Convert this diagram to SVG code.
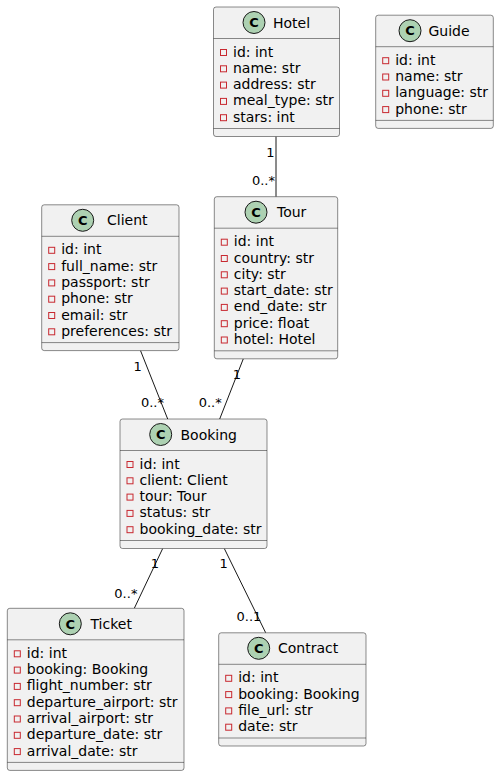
<svg xmlns="http://www.w3.org/2000/svg" width="499" height="776" viewBox="0 0 499 776">
  <defs>
    <style>
      .box { fill: #F1F1F1; stroke: #181818; stroke-width: 0.5; }
      .sep { stroke: #181818; stroke-width: 0.5; }
      .spot { fill: #ADD1B2; stroke: #181818; stroke-width: 1; }
      .spotc { font-family: "DejaVu Sans", sans-serif; font-size: 13px; font-weight: bold; fill: #000000; text-anchor: middle; }
      .name { font-family: "DejaVu Sans", sans-serif; font-size: 14px; fill: #000000; }
      .attr { font-family: "DejaVu Sans", sans-serif; font-size: 14px; fill: #000000; }
      .priv { fill: none; stroke: #C82930; stroke-width: 1; }
      .link { stroke: #181818; stroke-width: 1; fill: none; }
      .mult { font-family: "DejaVu Sans", sans-serif; font-size: 13px; fill: #000000; }
    </style>
  </defs>
  <rect x="0" y="0" width="499" height="776" fill="#FFFFFF"/>

  <g id="connectors">
    <line class="link" x1="276" y1="136.5" x2="276" y2="196.7"/>
    <text class="mult" x="274.5" y="157.4" text-anchor="end">1</text>
    <text class="mult" x="275" y="185.4" text-anchor="end">0..*</text>

    <line class="link" x1="140.5" y1="350.6" x2="167.7" y2="419"/>
    <text class="mult" x="137.7" y="370.7" text-anchor="middle">1</text>
    <text class="mult" x="164" y="407.4" text-anchor="end">0..*</text>

    <line class="link" x1="243.3" y1="358.8" x2="219.7" y2="419"/>
    <text class="mult" x="237" y="379" text-anchor="middle">1</text>
    <text class="mult" x="221.7" y="407.4" text-anchor="end">0..*</text>

    <line class="link" x1="162.7" y1="548.5" x2="134.3" y2="608.3"/>
    <text class="mult" x="155" y="568" text-anchor="middle">1</text>
    <text class="mult" x="137.4" y="598" text-anchor="end">0..*</text>

    <line class="link" x1="224.3" y1="548.5" x2="265.7" y2="632.8"/>
    <text class="mult" x="223.7" y="568" text-anchor="middle">1</text>
    <text class="mult" x="236.5" y="621.4">0..1</text>
  </g>

  <g id="Hotel">
    <rect class="box" x="213.5" y="7" width="126" height="129.5" rx="2.5" ry="2.5"/>
    <circle class="spot" cx="254" cy="22.5" r="11"/>
    <text class="spotc" x="254" y="27.2">C</text>
    <text class="name" x="273" y="27.5">Hotel</text>
    <line class="sep" x1="213.5" y1="38.5" x2="339.5" y2="38.5"/>
    <rect class="priv" x="220.5" y="49.5" width="6" height="6"/>
    <text class="attr" x="233" y="56.5">id: int</text>
    <rect class="priv" x="220.5" y="65.8" width="6" height="6"/>
    <text class="attr" x="233" y="72.8">name: str</text>
    <rect class="priv" x="220.5" y="82.1" width="6" height="6"/>
    <text class="attr" x="233" y="89.1">address: str</text>
    <rect class="priv" x="220.5" y="98.4" width="6" height="6"/>
    <text class="attr" x="233" y="105.4">meal_type: str</text>
    <rect class="priv" x="220.5" y="114.7" width="6" height="6"/>
    <text class="attr" x="233" y="121.7">stars: int</text>
    <line class="sep" x1="213.5" y1="128.5" x2="339.5" y2="128.5"/>
  </g>

  <g id="Guide">
    <rect class="box" x="375.7" y="15.2" width="117.6" height="113.2" rx="2.5" ry="2.5"/>
    <circle class="spot" cx="410" cy="30.7" r="11"/>
    <text class="spotc" x="410" y="35.4">C</text>
    <text class="name" x="428.5" y="35.7">Guide</text>
    <line class="sep" x1="375.7" y1="46.7" x2="493.3" y2="46.7"/>
    <rect class="priv" x="382.7" y="57.7" width="6" height="6"/>
    <text class="attr" x="395.2" y="64.7">id: int</text>
    <rect class="priv" x="382.7" y="74" width="6" height="6"/>
    <text class="attr" x="395.2" y="81">name: str</text>
    <rect class="priv" x="382.7" y="90.3" width="6" height="6"/>
    <text class="attr" x="395.2" y="97.3">language: str</text>
    <rect class="priv" x="382.7" y="106.6" width="6" height="6"/>
    <text class="attr" x="395.2" y="113.6">phone: str</text>
    <line class="sep" x1="375.7" y1="120.4" x2="493.3" y2="120.4"/>
  </g>

  <g id="Client">
    <rect class="box" x="41.7" y="204.8" width="137.3" height="145.8" rx="2.5" ry="2.5"/>
    <circle class="spot" cx="82.7" cy="220.3" r="11"/>
    <text class="spotc" x="82.7" y="225">C</text>
    <text class="name" x="107" y="225.3">Client</text>
    <line class="sep" x1="41.7" y1="236.3" x2="179" y2="236.3"/>
    <rect class="priv" x="48.7" y="247.3" width="6" height="6"/>
    <text class="attr" x="61.2" y="254.3">id: int</text>
    <rect class="priv" x="48.7" y="263.6" width="6" height="6"/>
    <text class="attr" x="61.2" y="270.6">full_name: str</text>
    <rect class="priv" x="48.7" y="279.9" width="6" height="6"/>
    <text class="attr" x="61.2" y="286.9">passport: str</text>
    <rect class="priv" x="48.7" y="296.2" width="6" height="6"/>
    <text class="attr" x="61.2" y="303.2">phone: str</text>
    <rect class="priv" x="48.7" y="312.5" width="6" height="6"/>
    <text class="attr" x="61.2" y="319.5">email: str</text>
    <rect class="priv" x="48.7" y="328.8" width="6" height="6"/>
    <text class="attr" x="61.2" y="335.8">preferences: str</text>
    <line class="sep" x1="41.7" y1="342.6" x2="179" y2="342.6"/>
  </g>

  <g id="Tour">
    <rect class="box" x="214.3" y="196.7" width="123.4" height="162.1" rx="2.5" ry="2.5"/>
    <circle class="spot" cx="256" cy="212.2" r="11"/>
    <text class="spotc" x="256" y="216.9">C</text>
    <text class="name" x="277" y="217.2">Tour</text>
    <line class="sep" x1="214.3" y1="228.2" x2="337.7" y2="228.2"/>
    <rect class="priv" x="221.3" y="239.2" width="6" height="6"/>
    <text class="attr" x="233.8" y="246.2">id: int</text>
    <rect class="priv" x="221.3" y="255.5" width="6" height="6"/>
    <text class="attr" x="233.8" y="262.5">country: str</text>
    <rect class="priv" x="221.3" y="271.8" width="6" height="6"/>
    <text class="attr" x="233.8" y="278.8">city: str</text>
    <rect class="priv" x="221.3" y="288.1" width="6" height="6"/>
    <text class="attr" x="233.8" y="295.1">start_date: str</text>
    <rect class="priv" x="221.3" y="304.4" width="6" height="6"/>
    <text class="attr" x="233.8" y="311.4">end_date: str</text>
    <rect class="priv" x="221.3" y="320.7" width="6" height="6"/>
    <text class="attr" x="233.8" y="327.7">price: float</text>
    <rect class="priv" x="221.3" y="337" width="6" height="6"/>
    <text class="attr" x="233.8" y="344">hotel: Hotel</text>
    <line class="sep" x1="214.3" y1="350.8" x2="337.7" y2="350.8"/>
  </g>

  <g id="Booking">
    <rect class="box" x="120" y="419" width="147" height="129.5" rx="2.5" ry="2.5"/>
    <circle class="spot" cx="160.7" cy="434.5" r="11"/>
    <text class="spotc" x="160.7" y="439.2">C</text>
    <text class="name" x="180.5" y="439.5">Booking</text>
    <line class="sep" x1="120" y1="450.5" x2="267" y2="450.5"/>
    <rect class="priv" x="127" y="461.5" width="6" height="6"/>
    <text class="attr" x="139.5" y="468.5">id: int</text>
    <rect class="priv" x="127" y="477.8" width="6" height="6"/>
    <text class="attr" x="139.5" y="484.8">client: Client</text>
    <rect class="priv" x="127" y="494.1" width="6" height="6"/>
    <text class="attr" x="139.5" y="501.1">tour: Tour</text>
    <rect class="priv" x="127" y="510.4" width="6" height="6"/>
    <text class="attr" x="139.5" y="517.4">status: str</text>
    <rect class="priv" x="127" y="526.7" width="6" height="6"/>
    <text class="attr" x="139.5" y="533.7">booking_date: str</text>
    <line class="sep" x1="120" y1="540.5" x2="267" y2="540.5"/>
  </g>

  <g id="Ticket">
    <rect class="box" x="7.3" y="608.3" width="176.7" height="162.1" rx="2.5" ry="2.5"/>
    <circle class="spot" cx="70.3" cy="623.8" r="11"/>
    <text class="spotc" x="70.3" y="628.5">C</text>
    <text class="name" x="90.5" y="628.8">Ticket</text>
    <line class="sep" x1="7.3" y1="639.8" x2="184" y2="639.8"/>
    <rect class="priv" x="14.3" y="650.8" width="6" height="6"/>
    <text class="attr" x="26.8" y="657.8">id: int</text>
    <rect class="priv" x="14.3" y="667.1" width="6" height="6"/>
    <text class="attr" x="26.8" y="674.1">booking: Booking</text>
    <rect class="priv" x="14.3" y="683.4" width="6" height="6"/>
    <text class="attr" x="26.8" y="690.4">flight_number: str</text>
    <rect class="priv" x="14.3" y="699.7" width="6" height="6"/>
    <text class="attr" x="26.8" y="706.7">departure_airport: str</text>
    <rect class="priv" x="14.3" y="716" width="6" height="6"/>
    <text class="attr" x="26.8" y="723">arrival_airport: str</text>
    <rect class="priv" x="14.3" y="732.3" width="6" height="6"/>
    <text class="attr" x="26.8" y="739.3">departure_date: str</text>
    <rect class="priv" x="14.3" y="748.6" width="6" height="6"/>
    <text class="attr" x="26.8" y="755.6">arrival_date: str</text>
    <line class="sep" x1="7.3" y1="762.4" x2="184" y2="762.4"/>
  </g>

  <g id="Contract">
    <rect class="box" x="218.7" y="632.8" width="147.3" height="113.2" rx="2.5" ry="2.5"/>
    <circle class="spot" cx="258.7" cy="648.3" r="11"/>
    <text class="spotc" x="258.7" y="653">C</text>
    <text class="name" x="278" y="653.3">Contract</text>
    <line class="sep" x1="218.7" y1="664.3" x2="366" y2="664.3"/>
    <rect class="priv" x="225.7" y="675.3" width="6" height="6"/>
    <text class="attr" x="238.2" y="682.3">id: int</text>
    <rect class="priv" x="225.7" y="691.6" width="6" height="6"/>
    <text class="attr" x="238.2" y="698.6">booking: Booking</text>
    <rect class="priv" x="225.7" y="707.9" width="6" height="6"/>
    <text class="attr" x="238.2" y="714.9">file_url: str</text>
    <rect class="priv" x="225.7" y="724.2" width="6" height="6"/>
    <text class="attr" x="238.2" y="731.2">date: str</text>
    <line class="sep" x1="218.7" y1="738" x2="366" y2="738"/>
  </g>
</svg>
